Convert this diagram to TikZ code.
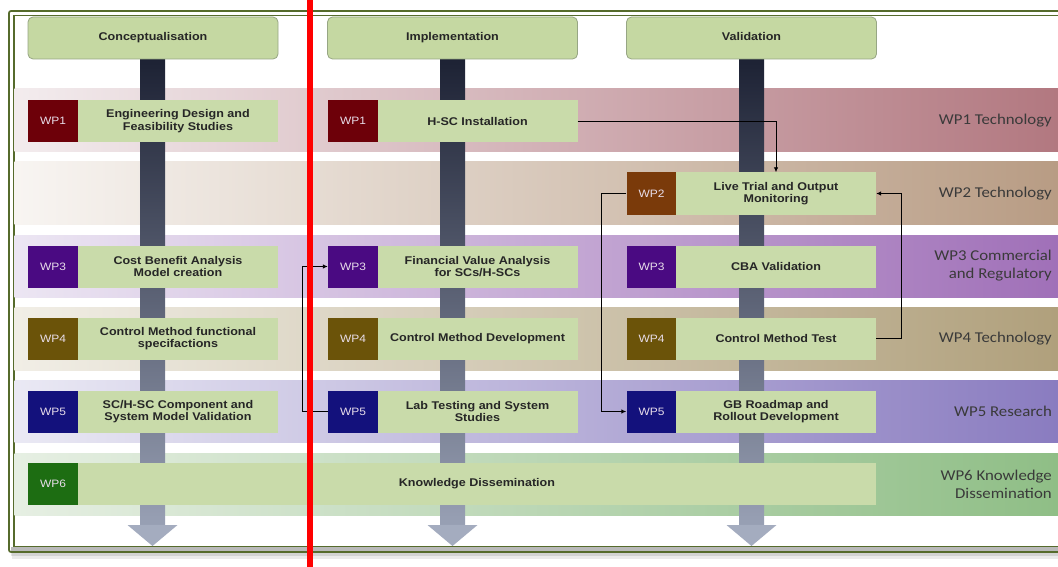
\documentclass[tikz,border=0pt]{standalone}
\usepackage{fontspec}
\setmainfont[FakeStretch=1.12]{Liberation Sans}
\newfontfamily\calfont[FakeStretch=1.12]{Carlito}
\usetikzlibrary{arrows.meta,calc}
\definecolor{frameg}{HTML}{566B2C}
\definecolor{hdrfill}{HTML}{C5D8A2}
\definecolor{hdrdraw}{HTML}{97A684}
\definecolor{boxg}{HTML}{C9DBAA}
\definecolor{txtc}{HTML}{262626}
\definecolor{labc}{HTML}{3A3A3A}
\definecolor{sqtxt}{HTML}{E8DDEA}
\definecolor{wpA}{HTML}{6D0009}
\definecolor{wpB}{HTML}{7A3A0A}
\definecolor{wpC}{HTML}{4A0A82}
\definecolor{wpD}{HTML}{6B5309}
\definecolor{wpE}{HTML}{13117C}
\definecolor{wpF}{HTML}{1D6D12}
\definecolor{bAl}{HTML}{F3ECEE}\definecolor{bAr}{HTML}{B27880}
\definecolor{bBl}{HTML}{F8F5F2}\definecolor{bBr}{HTML}{B89C84}
\definecolor{bCl}{HTML}{ECE6F3}\definecolor{bCr}{HTML}{A070B8}
\definecolor{bDl}{HTML}{F1EEE6}\definecolor{bDr}{HTML}{B0A07C}
\definecolor{bEl}{HTML}{EAE9F4}\definecolor{bEr}{HTML}{8A7CC0}
\definecolor{bFl}{HTML}{E6EFE3}\definecolor{bFr}{HTML}{8FBE86}
\definecolor{bartop}{HTML}{1D2234}
\definecolor{barbot}{HTML}{98A0B4}
\definecolor{arrowc}{HTML}{A4ACBF}
\definecolor{redl}{HTML}{FF0000}
\begin{document}
\begin{tikzpicture}[x=1pt,y=-1pt,
  hdr/.style={draw=hdrdraw, line width=0.8pt, fill=hdrfill, rounded corners=5pt,
    minimum width=250pt, minimum height=42pt, inner sep=0pt, text=txtc,
    text height=8.2pt, text depth=2.4pt,
    font=\fontsize{11.2}{12.7}\selectfont\bfseries},
  wpsq/.style={fill=#1, minimum width=50pt, minimum height=42pt, inner sep=0pt,
    text=sqtxt, font=\fontsize{10.7}{12}\selectfont},
  wpbox/.style={fill=boxg, minimum width=200pt, minimum height=42pt, inner sep=0pt,
    align=center, text=txtc, font=\fontsize{11.2}{12.7}\selectfont\bfseries},
  lbl/.style={anchor=east, align=right, text=labc, inner sep=0pt,
    font=\calfont\fontsize{15}{18}\selectfont},
  conn/.style={draw=black, line width=0.9pt, -{Latex[length=5pt,width=4.5pt]}}
]
\useasboundingbox (0,0) rectangle (1058,567);
\fill[white] (0,0) rectangle (1058,567);
% shadow and frame
\fill[black, opacity=0.08] (12,16) rectangle (1070,559);
\fill[black, opacity=0.10] (11,14) rectangle (1070,556);
\fill[white] (9,11) rectangle (1070,552);
\fill[gray!55] (11,546.5) rectangle (1070,551);
\draw[frameg, line width=1.7pt, rounded corners=2pt] (9,11) rectangle (1070,552);
\draw[frameg, line width=1.3pt] (14,15.5) rectangle (1070,546.5);
% bands
\shade[left color=bAl, right color=bAr] (14.7,89) rectangle (1058,152);
\shade[left color=bBl, right color=bBr] (14.7,162) rectangle (1058,224);
\shade[left color=bCl, right color=bCr] (14.7,235) rectangle (1058,297);
\shade[left color=bDl, right color=bDr] (14.7,307) rectangle (1058,370);
\shade[left color=bEl, right color=bEr] (14.7,380) rectangle (1058,442);
\shade[left color=bFl, right color=bFr] (14.7,453) rectangle (1058,515);
% vertical bars with arrows
\foreach \cx in {152.5,452.5,751.5}{
  \shade[top color=bartop, bottom color=barbot] (\cx-12.5,59) rectangle (\cx+12.5,525);
  \fill[arrowc] (\cx-25,525) -- (\cx+25,525) -- (\cx,546) -- cycle;
}
% headers
\node[hdr] (h1) at (153,38) {Conceptualisation};
\node[hdr] (h2) at (452.5,38) {Implementation};
\node[hdr] (h3) at (751.5,38) {Validation};
% column 1
\node[wpsq=wpA] (s11) at (53,121) {WP1};
\node[wpbox] (b11) at (178,121) {Engineering Design and\\Feasibility Studies};
\node[wpsq=wpC] (s13) at (53,266.5) {WP3};
\node[wpbox] (b13) at (178,266.5) {Cost Benefit Analysis\\Model creation};
\node[wpsq=wpD] (s14) at (53,338.5) {WP4};
\node[wpbox] (b14) at (178,338.5) {Control Method functional\\specifactions};
\node[wpsq=wpE] (s15) at (53,411.5) {WP5};
\node[wpbox] (b15) at (178,411.5) {SC/H-SC Component and\\System Model Validation};
\node[wpsq=wpF] (s16) at (53,484) {WP6};
\node[wpbox, minimum width=798pt] (b16) at (477,484) {Knowledge Dissemination};
% column 2
\node[wpsq=wpA] (s21) at (353,121) {WP1};
\node[wpbox] (b21) at (477.5,121) {H-SC Installation};
\node[wpsq=wpC] (s23) at (353,266.5) {WP3};
\node[wpbox] (b23) at (477.5,266.5) {Financial Value Analysis\\for SCs/H-SCs};
\node[wpsq=wpD] (s24) at (353,338.5) {WP4};
\node[wpbox] (b24) at (477.5,338.5) {Control Method Development};
\node[wpsq=wpE] (s25) at (353,411.5) {WP5};
\node[wpbox] (b25) at (477.5,411.5) {Lab Testing and System\\Studies};
% column 3
\node[wpsq=wpB] (s32) at (651.5,193.5) {WP2};
\node[wpbox] (b32) at (776,193.5) {Live Trial and Output\\Monitoring};
\node[wpsq=wpC] (s33) at (651.5,266.5) {WP3};
\node[wpbox] (b33) at (776,266.5) {CBA Validation};
\node[wpsq=wpD] (s34) at (651.5,338.5) {WP4};
\node[wpbox] (b34) at (776,338.5) {Control Method Test};
\node[wpsq=wpE] (s35) at (651.5,411.5) {WP5};
\node[wpbox] (b35) at (776,411.5) {GB Roadmap and\\Rollout Development};
% right labels
\node[lbl] (l1) at (1052,121) {WP1 Technology};
\node[lbl] (l2) at (1052,193.5) {WP2 Technology};
\node[lbl] (l3) at (1052,266) {WP3 Commercial\\and Regulatory};
\node[lbl] (l4) at (1052,338.5) {WP4 Technology};
\node[lbl] (l5) at (1052,411.5) {WP5 Research};
\node[lbl] (l6) at (1052,484) {WP6 Knowledge\\Dissemination};
% connectors
\draw[conn] (b21.east) -| (b32.north);
\draw[conn] (b34.east) -- ++(25,0) |- (b32.east);
\draw[conn] (s32.west) -- ++(-25,0) |- (s35.west);
\draw[conn] (s25.west) -- ++(-25,0) |- (s23.west);
% red marker line
\fill[redl] (307,0) rectangle (312.5,567);
\end{tikzpicture}
\end{document}
